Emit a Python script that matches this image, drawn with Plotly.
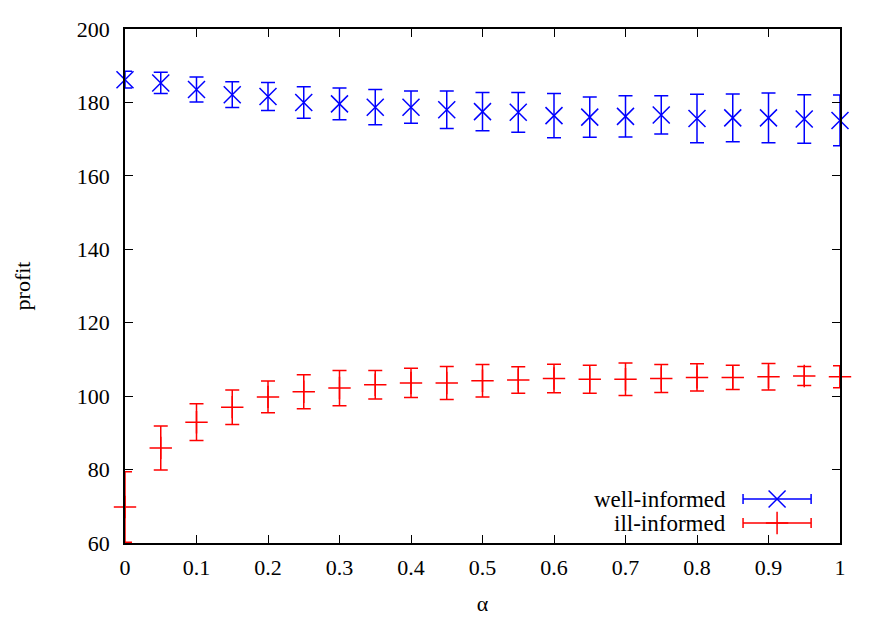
import plotly.graph_objects as go

# alpha values
alpha = [0.0, 0.05, 0.1, 0.15, 0.2, 0.25, 0.3, 0.35, 0.4, 0.45, 0.5,
         0.55, 0.6, 0.65, 0.7, 0.75, 0.8, 0.85, 0.9, 0.95, 1.0]

# well-informed profit (mean and error)
well_profit = [186.2, 185.3, 183.5, 182.1, 181.6, 180.0, 179.6, 178.7, 178.7, 178.0, 177.5,
               177.3, 176.4, 176.0, 176.2, 176.6, 175.6, 175.8, 175.8, 175.5, 175.1]
well_err = [2.3, 2.9, 3.4, 3.5, 3.8, 4.3, 4.3, 4.8, 4.4, 5.1, 5.2,
            5.4, 6.0, 5.5, 5.6, 5.2, 6.6, 6.5, 6.8, 6.6, 6.9]

# ill-informed profit (mean and error)
ill_profit = [69.8, 85.9, 92.9, 97.0, 99.8, 101.2, 102.2, 103.1, 103.6, 103.6, 104.2,
              104.4, 104.8, 104.6, 104.6, 104.8, 105.1, 105.1, 105.3, 105.5, 105.3]
ill_err = [9.6, 6.0, 5.0, 4.7, 4.3, 4.6, 4.8, 3.9, 4.0, 4.5, 4.4,
           3.6, 3.9, 3.8, 4.4, 3.8, 3.7, 3.3, 3.6, 2.6, 3.0]

series_names = ["well-informed", "ill-informed"]
BLUE = "#0000ff"
RED = "#ff0000"
FONT = "Liberation Serif"

fig = go.Figure()

fig.add_trace(go.Scatter(
    x=alpha, y=well_profit, mode="markers", name=series_names[0],
    marker=dict(symbol="x-thin", size=17, line=dict(color=BLUE, width=1.5), color=BLUE),
    error_y=dict(type="data", array=well_err, visible=True, color=BLUE, thickness=1.5, width=7),
    cliponaxis=False, showlegend=False,
))
fig.add_trace(go.Scatter(
    x=alpha, y=ill_profit, mode="markers", name=series_names[1],
    marker=dict(symbol="cross-thin", size=16, line=dict(color=RED, width=1.5), color=RED),
    error_y=dict(type="data", array=ill_err, visible=True, color=RED, thickness=1.5, width=7),
    cliponaxis=False, showlegend=False,
))

# gnuplot style legend keys (text on the left, sample on the right) on a hidden overlay axis
key_y = [0.0856, 0.0389]
key_x = 0.912
key_half = 0.0476
styles = [("x-thin", 17, BLUE), ("cross-thin", 16, RED)]
for name, ky, (sym, sz, col) in zip(series_names, key_y, styles):
    fig.add_trace(go.Scatter(
        x=[key_x], y=[ky], xaxis="x2", yaxis="y2", mode="markers",
        marker=dict(symbol=sym, size=sz, line=dict(color=col, width=1.5), color=col),
        error_x=dict(type="constant", value=key_half, visible=True, color=col, thickness=1.5, width=5),
        cliponaxis=False, showlegend=False, hoverinfo="skip",
    ))
    fig.add_annotation(
        x=0.843, y=ky, xref="paper", yref="paper", text=name, showarrow=False,
        xanchor="right", yanchor="middle", font=dict(family=FONT, size=23, color="black"),
    )

axis_common = dict(
    showline=True, linecolor="black", linewidth=1.5, mirror="ticks",
    ticks="inside", ticklen=8, tickwidth=1.2, tickcolor="black",
    showgrid=False, zeroline=False, automargin=False,
    tickfont=dict(family=FONT, size=22, color="black"),
)

fig.update_layout(
    width=882, height=617,
    # the page body adds 8px, so margins are shifted to land on the reference frame
    margin=dict(l=117, r=50, t=21, b=82),
    paper_bgcolor="white", plot_bgcolor="white",
    showlegend=False,
    xaxis=dict(range=[0, 1], dtick=0.1, tickformat="~g", ticklabelstandoff=4,
               title=dict(text="α", font=dict(family=FONT, size=22, color="black"), standoff=16),
               **axis_common),
    yaxis=dict(range=[60, 200], dtick=20, ticklabelstandoff=9,
               title=dict(text="profit", font=dict(family=FONT, size=22, color="black"), standoff=40),
               **axis_common),
    xaxis2=dict(range=[0, 1], overlaying="x", visible=False, fixedrange=True),
    yaxis2=dict(range=[0, 1], overlaying="y", visible=False, fixedrange=True),
)

fig.write_html("out.html")
